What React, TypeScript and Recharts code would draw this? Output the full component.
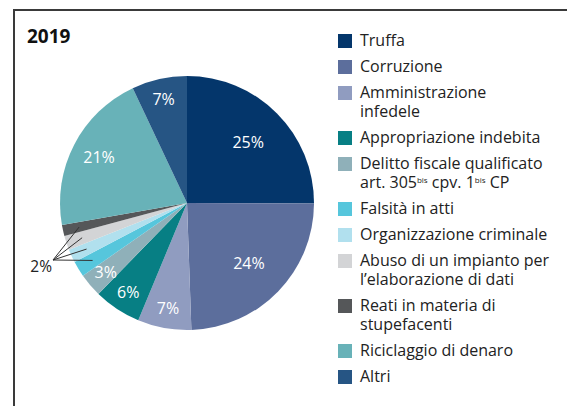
import { PieChart, Pie, Cell, Legend } from "recharts";

const categories = [
  "Truffa",
  "Corruzione",
  "Amministrazione\ninfedele",
  "Appropriazione indebita",
  "Delitto fiscale qualificato\nart. 305^bis cpv. 1^bis CP",
  "Falsità in atti",
  "Organizzazione criminale",
  "Abuso di un impianto per\nl’elaborazione di dati",
  "Reati in materia di\nstupefacenti",
  "Riciclaggio di denaro",
  "Altri",
];
const shares = [25, 24.3, 6.8, 6, 3, 2, 1.7, 1.8, 1.4, 20.7, 7];
const shareLabels = ["25%", "24%", "7%", "6%", "3%", "2%", "2%", "2%", "2%", "21%", "7%"];
const COLORS = [
  "#04366b", "#5c6e9c", "#909cc0", "#077f84", "#8fb0b9", "#56c6dc",
  "#b1e0ee", "#d3d4d6", "#555759", "#68b2b8", "#265584",
];

const data = categories.map((name, i) => ({ name, value: shares[i] }));

const RADIAN = Math.PI / 180;
const FONT = "'Open Sans', Roboto, sans-serif";

function renderLabel(props: any) {
  const { cx, cy, midAngle, outerRadius, index, value } = props;
  const cos = Math.cos(-midAngle * RADIAN);
  const sin = Math.sin(-midAngle * RADIAN);
  if (value < 2.5) {
    // small slices share one "2%" label with leader lines
    const r = outerRadius * 0.87;
    const hubX = cx - 134;
    const hubY = cy + 57;
    return (
      <g key={"l" + index}>
        <line x1={hubX} y1={hubY} x2={cx + r * cos} y2={cy + r * sin} stroke="#333" strokeWidth={1} />
        {index === 5 && (
          <text x={hubX - 1} y={hubY + 6} textAnchor="end" dominantBaseline="central"
            fill="#222" fontSize={15.5} fontFamily={FONT}>
            {shareLabels[index]}
          </text>
        )}
      </g>
    );
  }
  const k = value >= 24 ? 0.68 : value >= 20 ? 0.78 : 0.84;
  const r = outerRadius * k;
  return (
    <text key={"l" + index} x={cx + r * cos} y={cy + r * sin} textAnchor="middle"
      dominantBaseline="central" fill="#fff" fontSize={16} fontFamily={FONT}>
      {shareLabels[index]}
    </text>
  );
}

function renderLine(line: string) {
  const parts = line.split(/\^(\w+)/);
  return parts.map((p, i) =>
    i % 2 === 1 ? (
      <sup key={i} style={{ fontSize: 8, verticalAlign: "5px", lineHeight: 0 }}>{p}</sup>
    ) : (
      <span key={i}>{p}</span>
    )
  );
}

function LegendContent() {
  return (
    <div style={{ fontFamily: FONT, fontSize: 16, color: "#222" }}>
      {categories.map((name, i) => (
        <div key={i} style={{ display: "flex", alignItems: "flex-start", marginBottom: 7, lineHeight: "19px" }}>
          <div style={{ width: 14, height: 14, background: COLORS[i], marginTop: 2.5, marginRight: 8, flexShrink: 0 }} />
          <div style={{ whiteSpace: "nowrap" }}>
            {name.split("\n").map((ln, j) => (
              <div key={j}>{renderLine(ln)}</div>
            ))}
          </div>
        </div>
      ))}
    </div>
  );
}

export default function App() {
  return (
    <div style={{ position: "absolute", left: 0, top: 0, width: 567, height: 406, background: "#fff", overflow: "hidden" }}>
      <div style={{ position: "absolute", left: 13, top: 9, width: 600, height: 450, borderTop: "2px solid #3a3a3a", borderLeft: "2px solid #3a3a3a" }} />
      <div style={{ position: "absolute", left: 27, top: 23, fontFamily: FONT, fontWeight: 700, fontSize: 19, color: "#111" }}>
        2019
      </div>
      <div style={{ position: "absolute", left: 0, top: 0 }}>
        <PieChart width={567} height={406} margin={{ top: 0, right: 0, bottom: 0, left: 0 }}>
          <Pie
            data={data}
            dataKey="value"
            nameKey="name"
            cx={187}
            cy={203}
            outerRadius={127}
            startAngle={90}
            endAngle={-270}
            stroke="none"
            label={renderLabel}
            labelLine={false}
            isAnimationActive={false}
          >
            {data.map((entry, index) => (
              <Cell key={index} fill={COLORS[index]} />
            ))}
          </Pie>
          <Legend
            layout="vertical"
            align="right"
            verticalAlign="top"
            content={<LegendContent />}
            wrapperStyle={{ left: 338, top: 31, width: 229, right: "auto" }}
          />
        </PieChart>
      </div>
    </div>
  );
}
